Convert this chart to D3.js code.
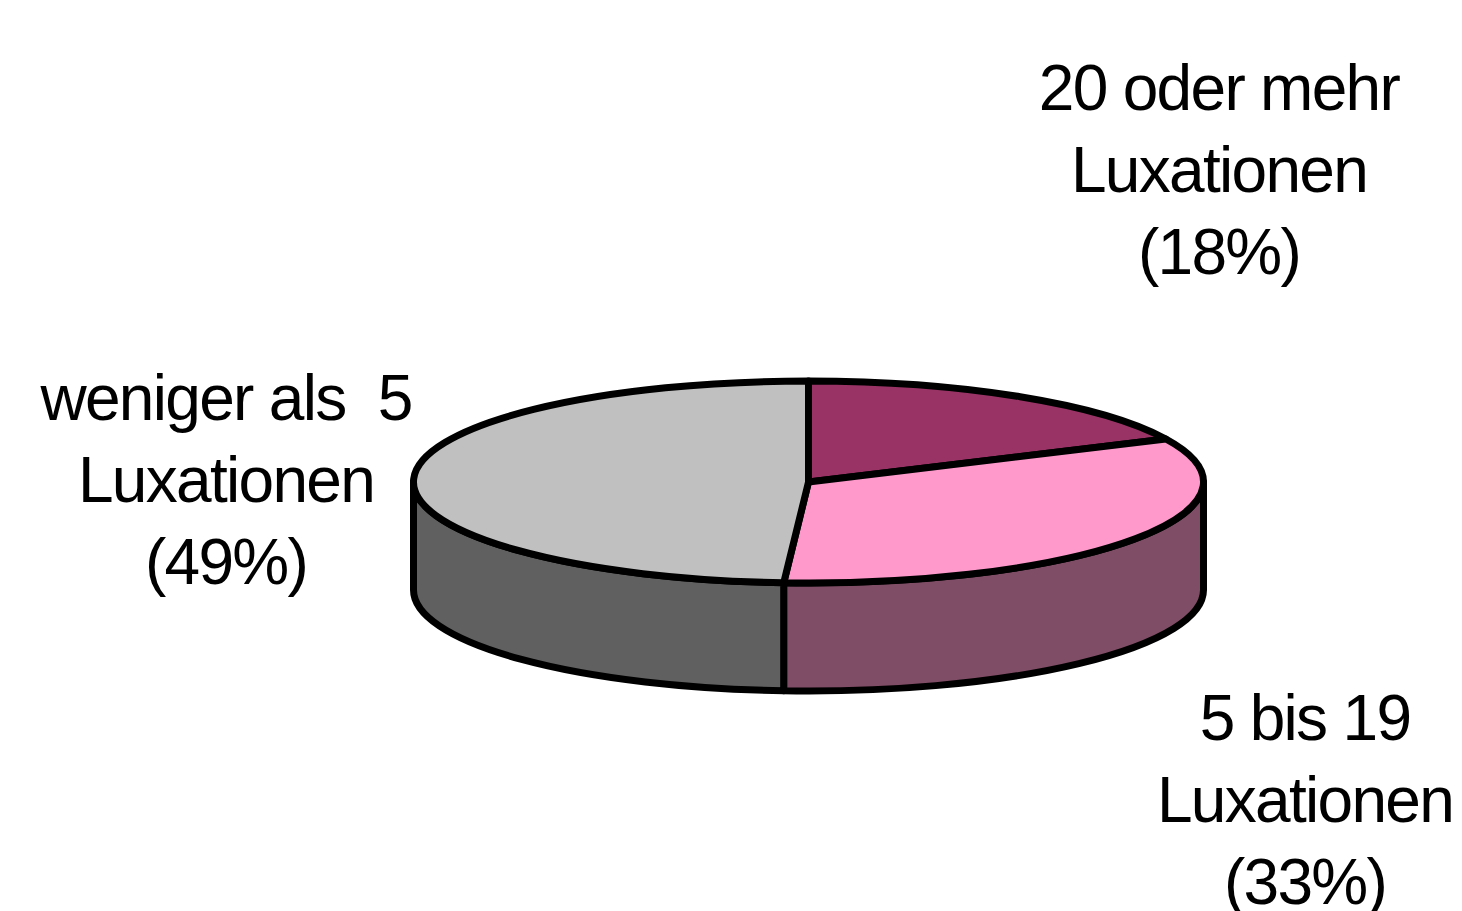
<!DOCTYPE html>
<html>
<head>
<meta charset="utf-8">
<script src="https://cdn.jsdelivr.net/npm/d3@7"></script>
<style>
  html, body { margin: 0; padding: 0; background: #fff; }
  svg { display: block; }
  text { font-family: "Liberation Sans", Arial, sans-serif; white-space: pre; }
</style>
</head>
<body>
<svg id="chart" width="1462" height="911"></svg>
<script>
// ---- data ----
const categories = ["20 oder mehr Luxationen", "5 bis 19 Luxationen", "weniger als  5 Luxationen"];
const values = [18, 33, 49];
const topColors = ["#993366", "#FF99CC", "#C0C0C0"];
const sideColors = ["#66223F", "#804D66", "#606060"];
const labelLines = [
  ["20 oder mehr", "Luxationen", "(18%)"],
  ["5 bis 19", "Luxationen", "(33%)"],
  ["weniger als  5", "Luxationen", "(49%)"]
];

// ---- layout ----
const svg = d3.select("#chart");
const cx = 808.5, cy = 482, rx = 395, ry = 101, depth = 108;
const strokeW = 7;

const pie = d3.pie().sort(null).value(d => d).startAngle(0).endAngle(2 * Math.PI);
const arcs = pie(values);

const P = (a, dy = 0) => [cx + rx * Math.sin(a), cy - ry * Math.cos(a) + dy];

function topPath(d) {
  const p0 = P(d.startAngle), p1 = P(d.endAngle);
  const large = (d.endAngle - d.startAngle) > Math.PI ? 1 : 0;
  return `M${cx},${cy}L${p0[0]},${p0[1]}A${rx},${ry} 0 ${large} 1 ${p1[0]},${p1[1]}Z`;
}
function sidePath(d) {
  const s = Math.max(d.startAngle, Math.PI / 2);
  const e = Math.min(d.endAngle, 3 * Math.PI / 2);
  if (e <= s) return null;
  const a = P(s), b = P(e), c = P(e, depth), f = P(s, depth);
  return `M${a[0]},${a[1]}A${rx},${ry} 0 0 1 ${b[0]},${b[1]}L${c[0]},${c[1]}A${rx},${ry} 0 0 0 ${f[0]},${f[1]}Z`;
}

const g = svg.append("g");
g.selectAll("path.side")
  .data(arcs.filter(d => sidePath(d)))
  .join("path")
  .attr("class", "side")
  .attr("d", sidePath)
  .attr("fill", d => sideColors[d.index])
  .attr("stroke", "#000")
  .attr("stroke-width", strokeW)
  .attr("stroke-linejoin", "round");

g.selectAll("path.top")
  .data(arcs)
  .join("path")
  .attr("class", "top")
  .attr("d", topPath)
  .attr("fill", d => topColors[d.index])
  .attr("stroke", "#000")
  .attr("stroke-width", strokeW)
  .attr("stroke-linejoin", "round");

// ---- labels ----
const labelPos = [[1219, 110], [1305, 740], [226, 420]];
const lineH = 82;
const lg = svg.append("g");
labelLines.forEach((lines, i) => {
  const t = lg.append("text")
    .attr("x", labelPos[i][0])
    .attr("y", labelPos[i][1])
    .attr("text-anchor", "middle")
    .attr("font-size", 64)
    .attr("letter-spacing", -1.7)
    .attr("fill", "#000");
  lines.forEach((ln, j) => {
    t.append("tspan")
      .attr("x", labelPos[i][0])
      .attr("y", labelPos[i][1] + j * lineH)
      .text(ln);
  });
});
</script>
</body>
</html>
